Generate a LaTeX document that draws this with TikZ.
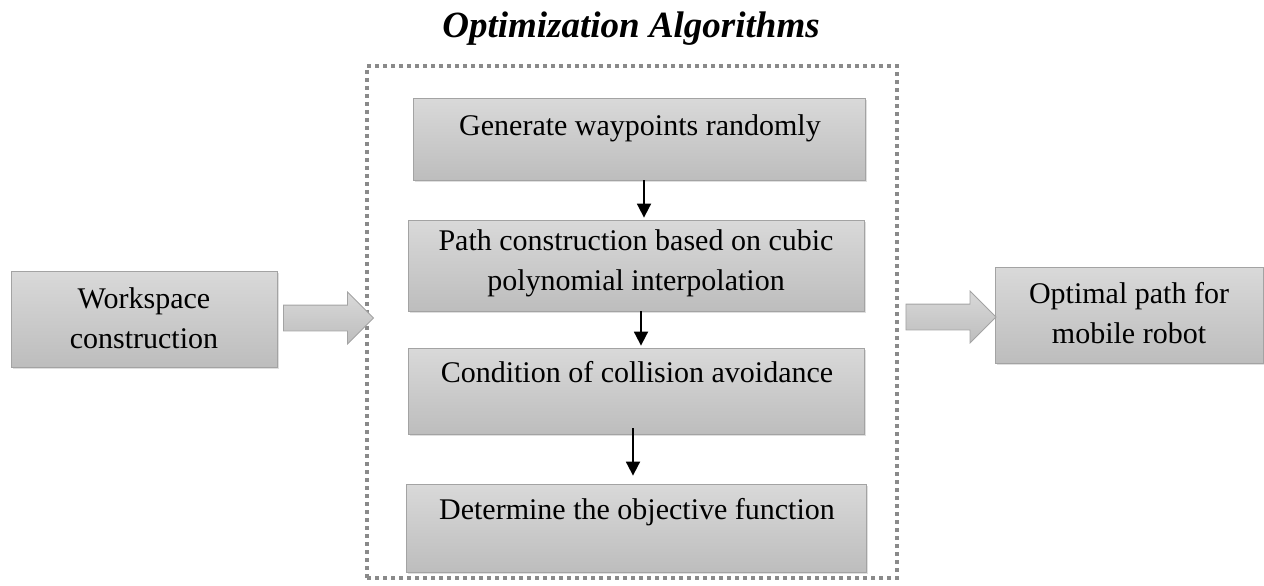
\documentclass[tikz,border=0pt]{standalone}
\usepackage{fontspec}
\setmainfont{Liberation Serif}
\usetikzlibrary{shapes.arrows,shadows,arrows.meta}
\definecolor{boxtop}{HTML}{D9D9D9}
\definecolor{boxbot}{HTML}{BDBDBD}
\definecolor{boxedge}{HTML}{A3A3A3}
\definecolor{framegray}{HTML}{8A8A8A}
\begin{document}
\begin{tikzpicture}[x=1pt,y=-1pt,
  stepbox/.style={draw=boxedge, line width=0.8pt, top color=boxtop, bottom color=boxbot,
    inner sep=0pt, drop shadow={opacity=0.25, shadow xshift=2pt, shadow yshift=-2pt}},
  boxtext/.style={font=\fontsize{30}{40}\selectfont, align=center, inner sep=0pt},
  flowarrow/.style={-{Triangle[length=14pt,width=14pt]}, line width=1.8pt},
  blockarr/.style={single arrow, draw=boxedge, line width=0.8pt, top color=boxtop, bottom color=boxbot,
    inner xsep=0pt, inner ysep=12.5pt, minimum width=51pt, single arrow head extend=13pt,
    single arrow head indent=0pt, minimum height=90pt},
  dotframe/.style={draw=framegray, line width=4pt, dash pattern=on 4pt off 4pt,
    inner sep=0pt}]
  \useasboundingbox (0,0) rectangle (1264,586);

  % heading
  \node[font=\fontsize{37}{40}\selectfont\bfseries\itshape] (title) at (631,29) {Optimization Algorithms};

  % frame around the algorithm steps
  \node[dotframe, minimum width=530pt, minimum height=512pt] (frame) at (632,322) {};

  % algorithm steps
  \node[stepbox, minimum width=452pt, minimum height=82pt] (s1) at (639,139) {};
  \node[boxtext] (t1) at (640,128) {Generate waypoints randomly};
  \node[stepbox, minimum width=456pt, minimum height=91pt] (s2) at (636,265.5) {};
  \node[boxtext] (t2) at (636,263) {Path construction based on cubic\\polynomial interpolation};
  \node[stepbox, minimum width=456pt, minimum height=86pt] (s3) at (636,391) {};
  \node[boxtext] (t3) at (637,372) {Condition of collision avoidance};
  \node[stepbox, minimum width=460pt, minimum height=88pt] (s4) at (636,528) {};
  \node[boxtext] (t4) at (637,512) {Determine the objective function};

  % input and output
  \node[stepbox, minimum width=266pt, minimum height=96pt] (ws) at (144,319) {};
  \node[boxtext] (wst) at (144,318) {Workspace\\construction};
  \node[stepbox, minimum width=268pt, minimum height=96pt] (op) at (1129,315) {};
  \node[boxtext] (opt) at (1129,313) {Optimal path for\\mobile robot};

  % block arrows into and out of the frame
  \node[blockarr] (larr) at (322,318) {};
  \node[blockarr] (rarr) at (944.5,317) {};

  % flow between the steps
  \coordinate (c1) at (644,0);
  \coordinate (c2) at (641,0);
  \coordinate (c3) at (633,0);
  \draw[flowarrow] (s1.south -| c1) -- ([yshift=2pt]s2.north -| c1);
  \draw[flowarrow] (s2.south -| c2) -- ([yshift=2pt]s3.north -| c2);
  \draw[flowarrow] ([yshift=6pt]s3.south -| c3) -- ([yshift=8pt]s4.north -| c3);
\end{tikzpicture}
\end{document}
